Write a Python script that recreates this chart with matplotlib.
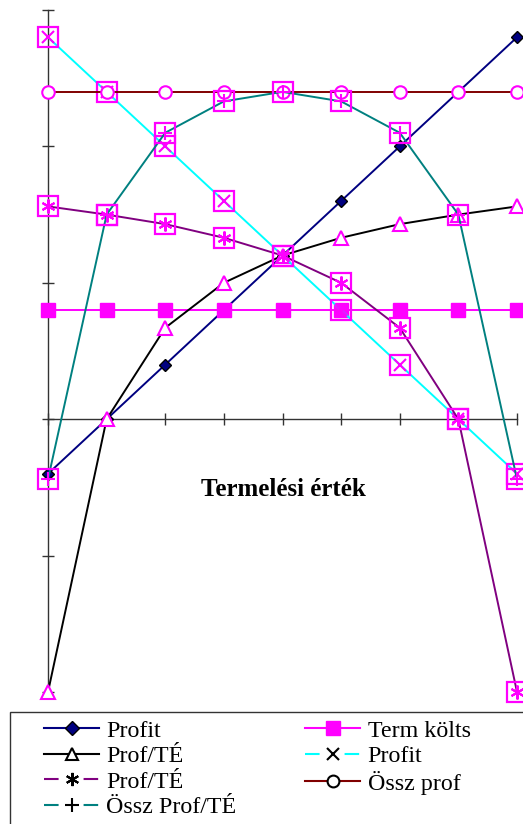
import matplotlib
matplotlib.use("Agg")
import matplotlib.pyplot as plt
from matplotlib.lines import Line2D
from matplotlib.patches import Rectangle

# category positions (no labels on the axis)
steps = [0, 1, 2, 3, 4, 5, 6, 7, 8]

profit = [-0.4, 0.0, 0.4, 0.8, 1.2, 1.6, 2.0, 2.4, 2.8]
term_kolts = [0.8, 0.8, 0.8, 0.8, 0.8, 0.8, 0.8, 0.8, 0.8]
prof_te = [-2.0, 0.0, 0.67, 1.0, 1.2, 1.33, 1.43, 1.5, 1.56]
profit_2 = [2.8, 2.4, 2.0, 1.6, 1.2, 0.8, 0.4, 0.0, -0.4]
prof_te_2 = [1.56, 1.5, 1.43, 1.33, 1.2, 1.0, 0.67, 0.0, -2.0]
ossz_prof = [2.4, 2.4, 2.4, 2.4, 2.4, 2.4, 2.4, 2.4, 2.4]
ossz_prof_te = [-0.44, 1.5, 2.1, 2.33, 2.4, 2.33, 2.1, 1.5, -0.44]

labels = ["Profit", "Term költs", "Prof/TÉ", "Profit", "Prof/TÉ", "Össz prof", "Össz Prof/TÉ"]

MAG = "#FF00FF"
serif = ["Liberation Serif", "DejaVu Serif"]

fig = plt.figure(figsize=(5.23, 8.24), dpi=100)
ax = fig.add_axes([48 / 523, 132 / 824, 469 / 523, 682 / 824])

lw = 1.4
ax.plot(steps, profit, color="#000080", lw=lw, marker="D", ms=6.5,
        mfc="#000080", mec="black", mew=1, clip_on=False, zorder=3)
ax.plot(steps, term_kolts, color=MAG, lw=lw, marker="s", ms=9.5,
        mfc=MAG, mec=MAG, clip_on=False, zorder=3)
ax.plot(steps, prof_te, color="black", lw=lw, marker="^", ms=10,
        mfc="white", mec=MAG, mew=1.5, clip_on=False, zorder=3)


def boxed(vals, color, inner, inner_ms):
    ax.plot(steps, vals, color=color, lw=lw, marker="s", ms=14.5,
            mfc="none", mec=MAG, mew=1.6, clip_on=False, zorder=3)
    ax.plot(steps, vals, ls="none", marker=inner, ms=inner_ms,
            mec=MAG, mew=1.5, clip_on=False, zorder=3)


boxed(profit_2, "#00FFFF", "x", 9)
boxed(prof_te_2, "#800080", (6, 2, 0), 10)
ax.plot(steps, ossz_prof, color="#800000", lw=lw, marker="o", ms=9,
        mfc="white", mec=MAG, mew=1.5, clip_on=False, zorder=3)
boxed(ossz_prof_te, "#008080", "+", 10)

ax.set_xlim(0, 8)
ax.set_ylim(-2, 3)
ax.spines["top"].set_visible(False)
ax.spines["right"].set_visible(False)
ax.spines["bottom"].set_position(("data", 0))
for s in ("left", "bottom"):
    ax.spines[s].set_color("#333333")
    ax.spines[s].set_linewidth(1)
ax.set_xticks(steps)
ax.set_yticks([-2, -1, 0, 1, 2, 3])
ax.tick_params(direction="inout", length=9, width=1, color="#333333",
               labelbottom=False, labelleft=False)

fig.text(283 / 523, 1 - 490 / 824, "Termelési érték", ha="center", va="center",
         fontsize=18, fontweight="bold", family=serif)

# legend
dash = (0, (7, 12))
handles = [
    Line2D([], [], color="#000080", lw=1.5, marker="D", ms=7.5, mfc="#000080", mec="black"),
    Line2D([], [], color="black", lw=1.5, marker="^", ms=8.5, mfc="white", mec="black", mew=1.5),
    Line2D([], [], color="#800080", lw=1.5, ls=dash, marker=(6, 2, 0), ms=9.5, mec="black", mew=1.5),
    Line2D([], [], color="#008080", lw=1.5, ls=dash, marker="+", ms=10, mec="black", mew=1.5),
    Line2D([], [], color=MAG, lw=1.5, marker="s", ms=9.5, mfc=MAG, mec=MAG),
    Line2D([], [], color="#00FFFF", lw=1.5, ls=dash, marker="x", ms=8.5, mec="black", mew=1.5),
    Line2D([], [], color="#800000", lw=1.5, marker="o", ms=8.5, mfc="white", mec="black", mew=1.5),
]
leg_labels = [labels[0], labels[2], labels[4], labels[6], labels[1], labels[3], labels[5]]
fig.legend(handles, leg_labels, ncol=2, loc="upper left",
           bbox_to_anchor=(44 / 523, 1 - 720 / 824), frameon=False,
           prop={"family": serif, "size": 17.3}, handlelength=2.3,
           handletextpad=0.3, columnspacing=2.85, labelspacing=0.15,
           borderpad=0, borderaxespad=0)

fig.patches.append(Rectangle((10 / 523, -0.05), 1.0, 1 - 712 / 824 + 0.05,
                             transform=fig.transFigure, fill=False,
                             edgecolor="#333333", lw=1))

fig.savefig("out.png", dpi=100)
